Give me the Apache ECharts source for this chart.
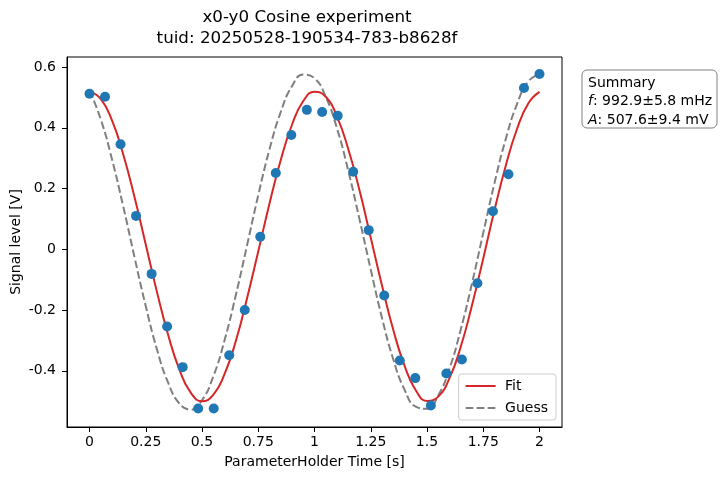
<!DOCTYPE html>
<html>
<head>
<meta charset="utf-8">
<script src="https://cdn.jsdelivr.net/npm/echarts@6/dist/echarts.min.js"></script>
<style>html,body{margin:0;padding:0;background:#fff}#c{width:720px;height:480px}</style>
</head>
<body>
<div id="c"></div>
<script>
// Measured points
const pointTimes = [0, 0.069, 0.138, 0.207, 0.276, 0.345, 0.414, 0.483, 0.552, 0.621,
  0.690, 0.759, 0.828, 0.897, 0.966, 1.034, 1.103, 1.172, 1.241, 1.310,
  1.379, 1.448, 1.517, 1.586, 1.655, 1.724, 1.793, 1.862, 1.931, 2.0];
const pointValues = [0.512, 0.502, 0.346, 0.110, -0.081, -0.254, -0.388, -0.524, -0.524, -0.349,
  -0.200, 0.041, 0.251, 0.376, 0.459, 0.452, 0.440, 0.255, 0.063, -0.152,
  -0.366, -0.424, -0.514, -0.409, -0.363, -0.112, 0.125, 0.247, 0.531, 0.577];
// Curves
const curveTimes = [0, 0.05, 0.1, 0.15, 0.2, 0.25, 0.3, 0.35, 0.4, 0.45, 0.5, 0.55, 0.6, 0.65, 0.7,
  0.75, 0.8, 0.85, 0.9, 0.95, 1.0, 1.05, 1.1, 1.15, 1.2, 1.25, 1.3, 1.35, 1.4, 1.45, 1.5,
  1.55, 1.6, 1.65, 1.7, 1.75, 1.8, 1.85, 1.9, 1.95, 2.0];
const fitValues = [0.520, 0.495, 0.424, 0.312, 0.172, 0.016, -0.141, -0.283, -0.397, -0.472, -0.500,
  -0.479, -0.411, -0.303, -0.162, -0.007, 0.151, 0.294, 0.410, 0.488, 0.519,
  0.502, 0.437, 0.330, 0.194, 0.038, -0.119, -0.265, -0.383, -0.464, -0.499,
  -0.485, -0.424, -0.321, -0.184, -0.030, 0.129, 0.275, 0.396, 0.480, 0.518];
const guessValues = [0.522, 0.428, 0.296, 0.141, -0.026, -0.187, -0.330, -0.440, -0.508, -0.528, -0.497,
  -0.419, -0.300, -0.152, 0.012, 0.178, 0.329, 0.452, 0.537, 0.575, 0.563,
  0.502, 0.398, 0.259, 0.099, -0.067, -0.226, -0.362, -0.462, -0.518, -0.525,
  -0.481, -0.393, -0.264, -0.112, 0.054, 0.218, 0.363, 0.478, 0.552, 0.577];
const xTicks = [0, 0.25, 0.5, 0.75, 1, 1.25, 1.5, 1.75, 2];
const yTicks = [-0.4, -0.2, 0, 0.2, 0.4, 0.6];
const titleLines = ['x0-y0 Cosine experiment', 'tuid: 20250528-190534-783-b8628f'];

const FONT = 'DejaVu Sans';
const zip = (a, b) => a.map((v, i) => [v, b[i]]);

const chart = echarts.init(document.getElementById('c'), null, {renderer: 'canvas'});
chart.setOption({
  animation: false,
  backgroundColor: '#fff',
  textStyle: {fontFamily: FONT},
  grid: {left: 67, right: 158, top: 57, bottom: 53, containLabel: false, outerBoundsMode: 'none',
    show: true, borderColor: '#000', borderWidth: 1, backgroundColor: 'transparent'},
  xAxis: {
    type: 'value', min: -0.1, max: 2.1,
    name: 'ParameterHolder Time [s]', nameLocation: 'middle', nameGap: 28, nameMoveOverlap: false,
    nameTextStyle: {fontFamily: FONT, fontSize: 14, color: '#000'},
    axisLine: {show: true, onZero: false, lineStyle: {color: '#000', width: 1}},
    axisTick: {show: true, length: 5, inside: false, customValues: xTicks, lineStyle: {color: '#000'}},
    axisLabel: {customValues: xTicks, margin: 8, fontFamily: FONT, fontSize: 14, color: '#000'},
    splitLine: {show: false}
  },
  yAxis: {
    type: 'value', min: -0.585, max: 0.633,
    name: 'Signal level [V]', nameLocation: 'middle', nameGap: 44, nameMoveOverlap: false,
    nameTextStyle: {fontFamily: FONT, fontSize: 14, color: '#000'},
    axisLine: {show: true, onZero: false, lineStyle: {color: '#000', width: 1}},
    axisTick: {show: true, length: 5, inside: false, customValues: yTicks, lineStyle: {color: '#000'}},
    axisLabel: {customValues: yTicks, margin: 11, fontFamily: FONT, fontSize: 14, color: '#000'},
    splitLine: {show: false}
  },
  legend: {
    orient: 'vertical', right: 164, bottom: 60,
    data: ['Fit', 'Guess'],
    itemWidth: 30, itemHeight: 14, itemGap: 8,
    padding: [5, 8, 5, 6],
    backgroundColor: 'rgba(255,255,255,0.8)',
    borderColor: '#cccccc', borderWidth: 1, borderRadius: 3,
    itemStyle: {color: 'rgba(0,0,0,0)', borderColor: 'rgba(0,0,0,0)', borderWidth: 0, opacity: 0},
    formatter: ' {name}',
    textStyle: {fontFamily: FONT, fontSize: 14, color: '#000'}
  },
  series: [
    {
      name: 'Fit', type: 'line', data: zip(curveTimes, fitValues), smooth: true,
      symbol: 'none', lineStyle: {color: '#d62728', width: 2}, itemStyle: {color: '#d62728'}, z: 3
    },
    {
      name: 'Guess', type: 'line', data: zip(curveTimes, guessValues), smooth: true,
      symbol: 'none', lineStyle: {color: '#7f7f7f', width: 2, type: [7.7, 3.3]}, itemStyle: {color: '#7f7f7f'}, z: 2
    },
    {
      name: 'Data', type: 'scatter', data: zip(pointTimes, pointValues),
      symbol: 'circle', symbolSize: 10, itemStyle: {color: '#1f77b4', opacity: 1}, z: 4
    }
  ],
  graphic: [
    {type: 'text', x: 307, y: 18, style: {text: titleLines[0], font: '16.7px "DejaVu Sans"', fill: '#000', align: 'center', verticalAlign: 'middle'}},
    {type: 'text', x: 307, y: 39, style: {text: titleLines[1], font: '16.7px "DejaVu Sans"', fill: '#000', align: 'center', verticalAlign: 'middle'}},
    {type: 'rect', shape: {x: 582, y: 70, width: 135, height: 58, r: 5}, style: {fill: '#fff', stroke: '#808080', lineWidth: 1}},
    {type: 'text', x: 588, y: 83, style: {text: 'Summary', font: '14px "DejaVu Sans"', fill: '#000', verticalAlign: 'middle'}},
    {type: 'text', x: 588, y: 101.5, style: {text: '{i|f}: 992.9±5.8 mHz', font: '14px "DejaVu Sans"', fill: '#000', verticalAlign: 'middle',
      rich: {i: {fontStyle: 'italic', fontFamily: FONT, fontSize: 14}}}},
    {type: 'text', x: 588, y: 120, style: {text: '{i|A}: 507.6±9.4 mV', font: '14px "DejaVu Sans"', fill: '#000', verticalAlign: 'middle',
      rich: {i: {fontStyle: 'italic', fontFamily: FONT, fontSize: 14}}}}
  ]
});
</script>
</body>
</html>
